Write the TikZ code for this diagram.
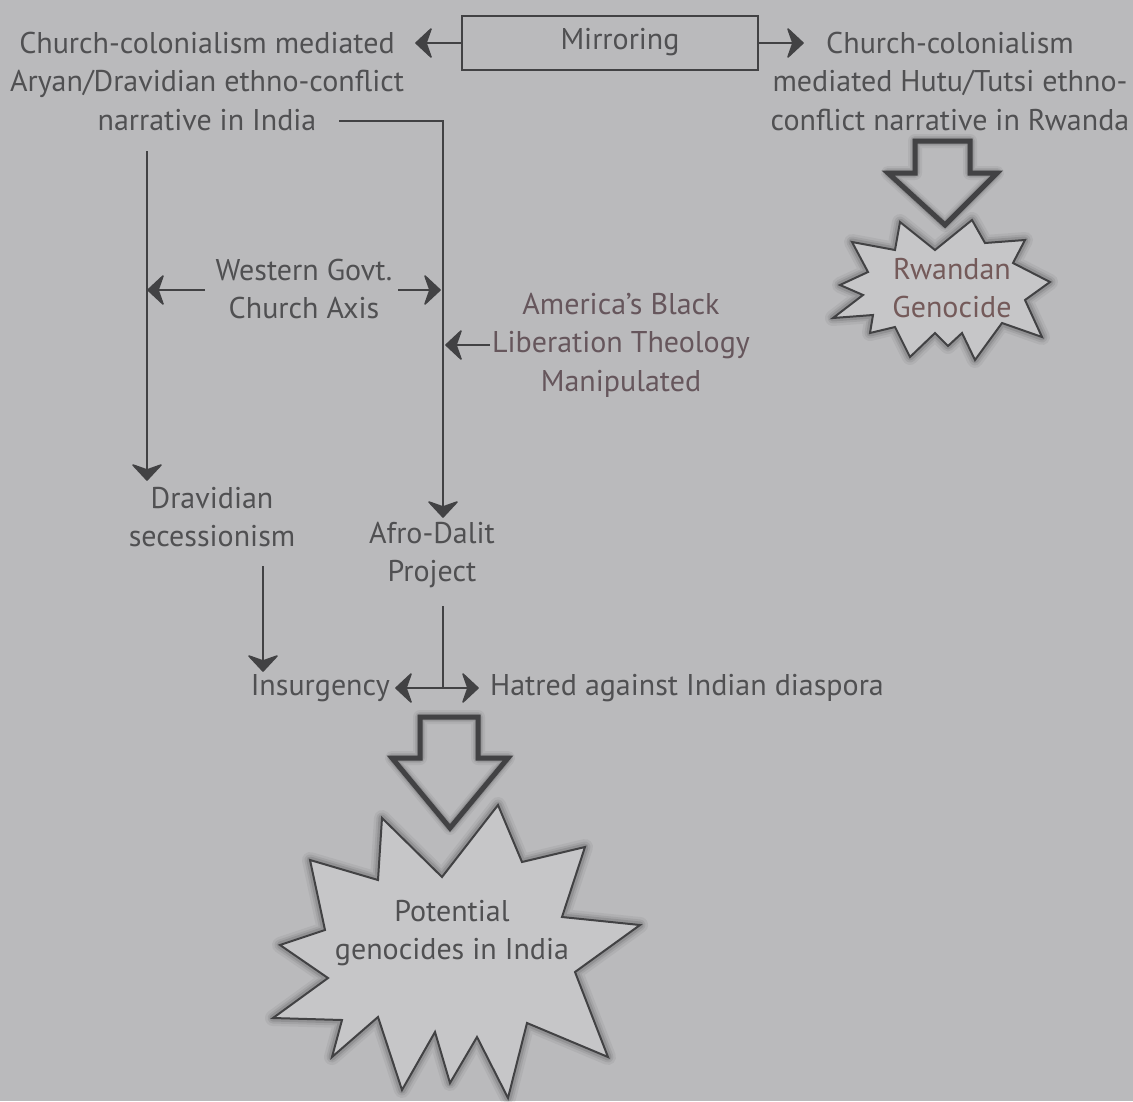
\documentclass[tikz,border=0pt]{standalone}
\usepackage{fontspec}
\setmainfont{PT Sans}
\definecolor{bg}{RGB}{186,186,188}
\definecolor{ink}{RGB}{66,66,68}
\definecolor{txt}{RGB}{80,80,82}
\definecolor{mauve}{RGB}{102,86,92}
\definecolor{rust}{RGB}{116,90,90}
\definecolor{burst}{RGB}{198,198,200}
\begin{document}
\begin{tikzpicture}[x=1pt,y=-1pt,
  lbl/.style={font=\fontsize{30}{38.5}\selectfont, text=txt, align=center, inner sep=0pt},
  conn/.style={draw=ink, line width=2.4pt},
  % chevron arrowhead, tip at the origin, pointing along +x
  chev/.pic={\filldraw[ink, line width=1.6pt, line join=round]
     (0,0) -- (-15,-14) -- (-10,0) -- (-15,14) -- cycle;},
  framebox/.style={draw=ink, line width=2.4pt, minimum width=296pt, minimum height=54pt, inner sep=0pt},
  halo/.style={draw=black, line join=round},
  blockarrow/.style={draw=ink, line width=5pt, line join=miter},
  burstline/.style={draw=ink, line width=2pt, fill=burst, line join=miter},
]
% canvas
\fill[bg] (0,0) rectangle (1133,1101);
\useasboundingbox (0,0) rectangle (1133,1101);

% ---------- text blocks ----------
\node[lbl] (india) at (207,81) {Church-colonialism mediated\\Aryan/Dravidian ethno-conflict\\narrative in India};
\node[lbl] (rwanda) at (950,81) {Church-colonialism\\mediated Hutu/Tutsi ethno-\\conflict narrative in Rwanda};
\node[framebox] (mirror) at (610,43) {};
\node[lbl] (mirrortxt) at (620,42) {Mirroring};
\node[lbl] (western) at (304,289) {Western Govt.\\Church Axis};
\node[lbl, text=mauve] (america) at (621,345) {America's Black\\Liberation Theology\\Manipulated};
\node[lbl] (dravid) at (212,517) {Dravidian\\secessionism};
\node[lbl] (afro) at (432,555) {Afro-Dalit\\Project};
\node[lbl, anchor=east] (insurg) at (390,688) {Insurgency};
\node[lbl, anchor=west] (hatred) at (490,688) {Hatred against Indian diaspora};

% ---------- connector points ----------
\coordinate (mL) at (416,43);
\coordinate (mR) at (803,43);
\coordinate (leftTop) at (147,151);
\coordinate (leftEnd) at (147,480);
\coordinate (rightStart) at (339,121);
\coordinate (rightCorner) at (443,121);
\coordinate (rightEnd) at (443,517);
\coordinate (wL0) at (205,290);
\coordinate (wL1) at (148,290);
\coordinate (wR0) at (398,290);
\coordinate (wR1) at (440,290);
\coordinate (aL0) at (490,345);
\coordinate (aL1) at (446,345);
\coordinate (secTop) at (263,566);
\coordinate (secEnd) at (263,671);
\coordinate (afroTop) at (443,606);
\coordinate (tee) at (443,688);
\coordinate (teeL) at (396,688);
\coordinate (teeR) at (478,688);

% ---------- connectors ----------
\draw[conn] (mirror.west) -- (mL);
\draw[conn] (mirror.east) -- (mR);
\draw[conn] (leftTop) -- (leftEnd);
\draw[conn] (rightStart) -- (rightCorner) -- (rightEnd);
\draw[conn] (wL0) -- (wL1);
\draw[conn] (wR0) -- (wR1);
\draw[conn] (aL0) -- (aL1);
\draw[conn] (secTop) -- (secEnd);
\draw[conn] (afroTop) -- (tee);
\draw[conn] (teeL) -- (teeR);

% ---------- arrowheads ----------
\pic[rotate=180] at (mL) {chev};
\pic at (mR) {chev};
\pic[rotate=-90] at (leftEnd) {chev};
\pic[rotate=-90] at (rightEnd) {chev};
\pic[rotate=180] at (wL1) {chev};
\pic at (wR1) {chev};
\pic[rotate=180] at (aL1) {chev};
\pic[rotate=-90] at (secEnd) {chev};
\pic[rotate=180] at (teeL) {chev};
\pic at (teeR) {chev};

% ---------- hollow block arrows ----------
\foreach \w/\o in {14/0.05,10/0.07,7/0.10}{
  \draw[halo, line width=\w pt, opacity=\o]
    (915,141) -- (970,141) -- (970,173) -- (997,173) -- (945,225) -- (888,173) -- (915,173) -- cycle;
  \draw[halo, line width=\w pt, opacity=\o]
    (420,717) -- (478,717) -- (478,758) -- (508,758) -- (450,828) -- (392,758) -- (420,758) -- cycle;
}
\draw[blockarrow] (915,141) -- (970,141) -- (970,173) -- (997,173) -- (945,225) -- (888,173) -- (915,173) -- cycle;
\draw[blockarrow] (420,717) -- (478,717) -- (478,758) -- (508,758) -- (450,828) -- (392,758) -- (420,758) -- cycle;

% ---------- starbursts ----------
\def\rwandaburst{(935,250) -- (972,220) -- (985,243) -- (1025,240) -- (1013,263) -- (1050,282)
  -- (1025,300) -- (1042,337) -- (1002,323) -- (975,360) -- (962,333) -- (948,346)
  -- (935,333) -- (910,357) -- (895,327) -- (870,333) -- (873,315) -- (833,318)
  -- (863,295) -- (840,285) -- (868,272) -- (852,242) -- (895,250) -- (900,222) -- cycle}
\def\indiaburst{(442,877) -- (498,805) -- (522,862) -- (585,847) -- (562,917) -- (640,925)
  -- (575,972) -- (608,1057) -- (527,1023) -- (508,1098) -- (477,1037) -- (450,1083)
  -- (435,1032) -- (402,1090) -- (378,1017) -- (332,1057) -- (342,1020) -- (273,1018)
  -- (328,978) -- (280,945) -- (325,930) -- (310,860) -- (378,880) -- (382,818) -- cycle}
\foreach \w/\o in {16/0.05,11/0.07,7/0.10}{
  \draw[halo, line width=\w pt, opacity=\o] \rwandaburst;
  \draw[halo, line width=\w pt, opacity=\o] \indiaburst;
}
\path[burstline] \rwandaburst;
\path[burstline] \indiaburst;
\node[lbl, text=rust] (rwgen) at (952,288) {Rwandan\\Genocide};
\node[lbl] (potential) at (452,933) {Potential\\genocides in India};
\end{tikzpicture}
\end{document}
